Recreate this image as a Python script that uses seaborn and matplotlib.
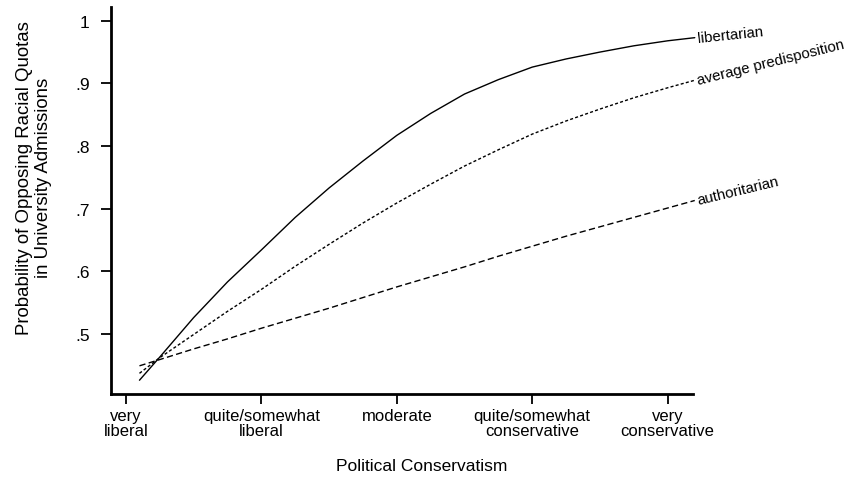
import numpy as np
import pandas as pd
import matplotlib
matplotlib.use("Agg")
import matplotlib.pyplot as plt
import seaborn as sns

# Predicted probability of opposing racial quotas across political conservatism
conservatism = [1.1, 1.25, 1.5, 1.75, 2.0, 2.25, 2.5, 2.75, 3.0, 3.25,
                3.5, 3.75, 4.0, 4.25, 4.5, 4.75, 5.0, 5.2]
libertarian = [0.426, 0.463, 0.526, 0.583, 0.634, 0.686, 0.733, 0.776, 0.817, 0.852,
               0.883, 0.906, 0.926, 0.939, 0.950, 0.960, 0.968, 0.973]
average = [0.437, 0.462, 0.499, 0.536, 0.571, 0.608, 0.643, 0.677, 0.709, 0.739,
           0.768, 0.794, 0.819, 0.840, 0.859, 0.877, 0.893, 0.905]
authoritarian = [0.449, 0.459, 0.476, 0.492, 0.509, 0.525, 0.541, 0.558, 0.575, 0.591,
                 0.607, 0.624, 0.640, 0.656, 0.671, 0.686, 0.701, 0.713]

series_names = ["libertarian", "average predisposition", "authoritarian"]
x_tick_pos = [1, 2, 3, 4, 5]
x_tick_labels = ["very\nliberal", "quite/somewhat\nliberal", "moderate",
                 "quite/somewhat\nconservative", "very\nconservative"]
y_tick_pos = [0.5, 0.6, 0.7, 0.8, 0.9, 1.0]
y_tick_labels = [".5", ".6", ".7", ".8", ".9", "1"]

df = pd.concat([
    pd.DataFrame({"x": conservatism, "p": vals, "group": name})
    for name, vals in zip(series_names, [libertarian, average, authoritarian])
], ignore_index=True)

sns.set_style("ticks")
plt.rcParams["font.family"] = ["Liberation Sans", "DejaVu Sans"]

fig = plt.figure(figsize=(8.45, 4.81), dpi=100)
ax = fig.add_axes([0.1314, 0.1788, 0.8206 - 0.1314, 0.9834 - 0.1788])

dashes = {"libertarian": "", "average predisposition": (2.2, 1.6),
          "authoritarian": (4.5, 2.4)}
sns.lineplot(data=df, x="x", y="p", style="group", dashes=dashes,
             style_order=series_names, color="black", linewidth=1.0,
             legend=False, ax=ax, estimator=None, sort=True)
for ln in ax.lines:
    ln.set_clip_on(False)

ax.set_xlim(0.89, 5.19)
ax.set_ylim(0.404, 1.022)
ax.set_xticks(x_tick_pos)
ax.set_xticklabels(x_tick_labels, fontsize=12, linespacing=1.05)
ax.set_yticks(y_tick_pos)
ax.set_yticklabels(y_tick_labels, fontsize=12.5)
ax.tick_params(axis="both", direction="out", length=7.5, width=1.3,
               color="black", labelcolor="black")
ax.tick_params(axis="x", pad=2.5)
ax.tick_params(axis="y", pad=8)

for side in ["top", "right"]:
    ax.spines[side].set_visible(False)
for side in ["left", "bottom"]:
    ax.spines[side].set_linewidth(2.0)
    ax.spines[side].set_color("black")

ax.set_xlabel("Political Conservatism", fontsize=12.5, color="black")
ax.set_ylabel("Probability of Opposing Racial Quotas\nin University Admissions",
              fontsize=13.4, color="black", linespacing=1.1)
ax.yaxis.set_label_coords(-0.102, 0.56)
ax.xaxis.set_label_coords(0.534, -0.165)

# curve labels at the right-hand end of each line
label_rot = {"libertarian": 6, "average predisposition": 14, "authoritarian": 13.5}
for name, vals in zip(series_names, [libertarian, average, authoritarian]):
    ax.annotate(name, xy=(conservatism[-1], vals[-1]), xytext=(2, 0),
                textcoords="offset points", ha="left", va="center",
                rotation=label_rot[name], rotation_mode="anchor",
                fontsize=10.8, color="black", annotation_clip=False)

fig.savefig("out.png", dpi=100, facecolor="white")
